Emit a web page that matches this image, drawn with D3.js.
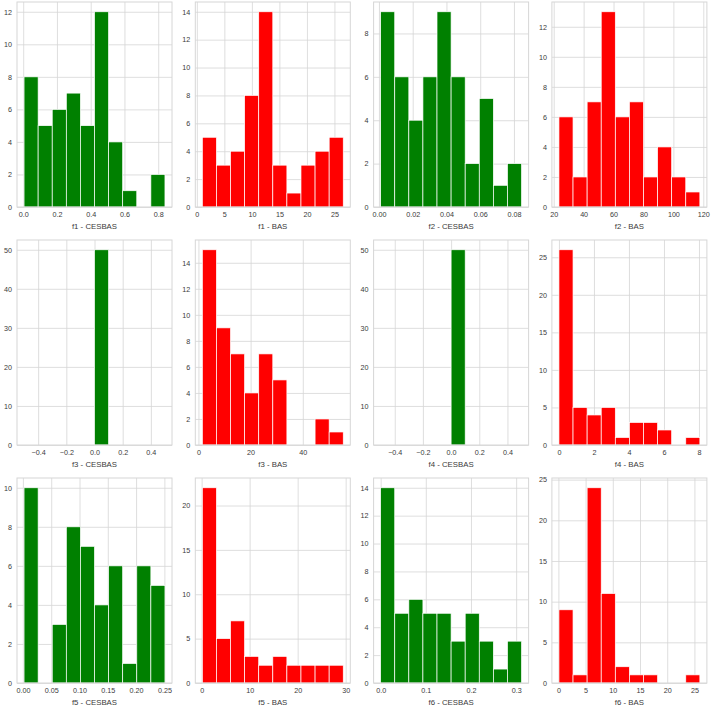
<!DOCTYPE html>
<html>
<head>
<meta charset="utf-8">
<script src="https://cdn.jsdelivr.net/npm/d3@7"></script>
<style>
  html, body { margin: 0; padding: 0; background: #fff; }
  svg { display: block; font-family: "Liberation Sans", Arial, sans-serif; }
</style>
</head>
<body>
<svg id="chart" width="715" height="708"></svg>
<script>
// ---- data ----
const labels = [
  "f1 - CESBAS", "f1 - BAS", "f2 - CESBAS", "f2 - BAS",
  "f3 - CESBAS", "f3 - BAS", "f4 - CESBAS", "f4 - BAS",
  "f5 - CESBAS", "f5 - BAS", "f6 - CESBAS", "f6 - BAS"
];
const colors = ["green", "red", "green", "red", "green", "red", "green", "red", "green", "red", "green", "red"];
const counts = [
  [8, 5, 6, 7, 5, 12, 4, 1, 0, 2],
  [5, 3, 4, 8, 14, 3, 1, 3, 4, 5],
  [9, 6, 4, 6, 9, 6, 2, 5, 1, 2],
  [6, 2, 7, 13, 6, 7, 2, 4, 2, 1],
  [0, 0, 0, 0, 0, 50, 0, 0, 0, 0],
  [15, 9, 7, 4, 7, 5, 0, 0, 2, 1],
  [0, 0, 0, 0, 0, 50, 0, 0, 0, 0],
  [26, 5, 4, 5, 1, 3, 3, 2, 0, 1],
  [10, 0, 3, 8, 7, 4, 6, 1, 6, 5],
  [22, 5, 7, 3, 2, 3, 2, 2, 2, 2],
  [14, 5, 6, 5, 5, 3, 5, 3, 1, 3],
  [9, 1, 24, 11, 2, 1, 1, 0, 0, 1]
];
const binMin = [0.005, 1.0, 0.001, 23.5, -0.5, 1.5, -0.5, 0.0, 0.002, 0.15, 0.0, 0.1];
const binMax = [0.84, 26.6, 0.0845, 117.7, 0.5, 55.5, 0.5, 8.05, 0.251, 29.5, 0.312, 26.0];
const xTicks = [
  [0.0, 0.2, 0.4, 0.6, 0.8],
  [0, 5, 10, 15, 20, 25],
  [0.00, 0.02, 0.04, 0.06, 0.08],
  [20, 40, 60, 80, 100, 120],
  [-0.4, -0.2, 0.0, 0.2, 0.4],
  [0, 20, 40],
  [-0.4, -0.2, 0.0, 0.2, 0.4],
  [0, 2, 4, 6, 8],
  [0.00, 0.05, 0.10, 0.15, 0.20, 0.25],
  [0, 10, 20, 30],
  [0.0, 0.1, 0.2, 0.3],
  [0, 5, 10, 15, 20, 25]
];
const xFormats = [".1f", "d", ".2f", "d", ".1f", "d", ".1f", "d", ".2f", "d", ".1f", "d"];
const yTicks = [
  [0, 2, 4, 6, 8, 10, 12],
  [0, 2, 4, 6, 8, 10, 12, 14],
  [0, 2, 4, 6, 8],
  [0, 2, 4, 6, 8, 10, 12],
  [0, 10, 20, 30, 40, 50],
  [0, 2, 4, 6, 8, 10, 12, 14],
  [0, 10, 20, 30, 40, 50],
  [0, 5, 10, 15, 20, 25],
  [0, 2, 4, 6, 8, 10],
  [0, 5, 10, 15, 20],
  [0, 2, 4, 6, 8, 10, 12, 14],
  [0, 5, 10, 15, 20, 25]
];

// ---- layout ----
const svg = d3.select("#chart");
const colStep = 178.3, rowStep = 238;
const left0 = 17, top0 = 2, pw = 155, ph = 205;
const gridColor = "#d6d6d6";
const textColor = "#3a3a3a";

labels.forEach((label, i) => {
  const c = i % 4, r = Math.floor(i / 4);
  const gx = left0 + c * colStep, gy = top0 + r * rowStep;
  const g = svg.append("g").attr("transform", `translate(${gx},${gy})`);

  const lo = binMin[i], hi = binMax[i];
  const span = hi - lo;
  const x = d3.scaleLinear().domain([lo - span * 0.05, hi + span * 0.05]).range([0, pw]);
  const ymax = d3.max(counts[i]) * 1.05;
  const y = d3.scaleLinear().domain([0, ymax]).range([ph, 0]);

  const n = counts[i].length;
  const edges = d3.range(n + 1).map(k => lo + span * k / n);
  const bins = counts[i].map((v, k) => ({ x0: edges[k], x1: edges[k + 1], v }));

  // grid
  const xAxis = d3.axisBottom(x).tickValues(xTicks[i]).tickFormat(d3.format(xFormats[i]))
    .tickSize(-ph).tickPadding(5);
  const yAxis = d3.axisLeft(y).tickValues(yTicks[i]).tickFormat(d3.format("d"))
    .tickSize(-pw).tickPadding(5);

  const gxA = g.append("g").attr("transform", `translate(0,${ph})`).call(xAxis);
  const gyA = g.append("g").call(yAxis);
  [gxA, gyA].forEach(a => {
    a.select(".domain").remove();
    a.selectAll(".tick line").attr("stroke", gridColor).attr("stroke-width", 0.8);
    a.selectAll(".tick text").attr("fill", textColor).attr("font-size", 7.2)
      .attr("font-family", "Liberation Sans, Arial, sans-serif");
  });

  // bars
  g.append("g").selectAll("rect").data(bins.filter(b => b.v > 0)).join("rect")
    .attr("x", b => x(b.x0))
    .attr("width", b => x(b.x1) - x(b.x0))
    .attr("y", b => y(b.v))
    .attr("height", b => y(0) - y(b.v))
    .attr("fill", colors[i])
    .attr("stroke", "#ffffff")
    .attr("stroke-width", 0.7);

  // frame
  g.append("rect").attr("x", 0).attr("y", 0).attr("width", pw).attr("height", ph)
    .attr("fill", "none").attr("stroke", gridColor).attr("stroke-width", 1);

  // x label
  g.append("text").attr("x", pw / 2).attr("y", ph + 22)
    .attr("text-anchor", "middle").attr("fill", textColor).attr("font-size", 7.8)
    .text(label);
});
</script>
</body>
</html>
